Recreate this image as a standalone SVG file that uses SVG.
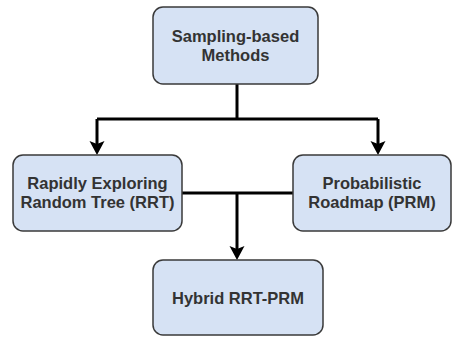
<svg xmlns="http://www.w3.org/2000/svg" width="452" height="337" viewBox="0 0 452 337">
<style>
.box{fill:#d6e2f4;stroke:#3a3a3a;stroke-width:1.5}
.lbl{font-family:"Liberation Sans",Arial,sans-serif;font-weight:bold;font-size:16.5px;fill:#333;text-anchor:middle}
.edge{fill:none;stroke:#000;stroke-width:3}
</style>
<defs>
<marker id="arr" markerUnits="userSpaceOnUse" viewBox="-1 -9 17 18" markerWidth="17" markerHeight="18" refX="3" refY="0" orient="auto">
<path d="M0,-7.5 L14,0 L0,7.5 L3,0 Z" fill="#000"/>
</marker>
</defs>
<rect width="452" height="337" fill="#fff"/>
<g id="connectors">
<path class="edge" d="M237,84 V119"/>
<path class="edge" d="M97,119 H378"/>
<path class="edge" d="M97,119 V144" marker-end="url(#arr)"/>
<path class="edge" d="M378,119 V144" marker-end="url(#arr)"/>
<path class="edge" d="M182,193 H293"/>
<path class="edge" d="M237,193 V249" marker-end="url(#arr)"/>
</g>
<g id="sampling">
<rect class="box" x="153" y="7" width="165" height="77" rx="10"/>
<text class="lbl" x="235.5" y="42">Sampling-based</text>
<text class="lbl" x="235.5" y="61">Methods</text>
</g>
<g id="rrt">
<rect class="box" x="13" y="155" width="169" height="76" rx="10"/>
<text class="lbl" x="97.5" y="189">Rapidly Exploring</text>
<text class="lbl" x="97.5" y="208">Random Tree (RRT)</text>
</g>
<g id="prm">
<rect class="box" x="293" y="155" width="158" height="76" rx="10"/>
<text class="lbl" x="372" y="189">Probabilistic</text>
<text class="lbl" x="372" y="208">Roadmap (PRM)</text>
</g>
<g id="hybrid">
<rect class="box" x="153" y="260" width="170" height="75" rx="10"/>
<text class="lbl" x="238" y="304">Hybrid RRT-PRM</text>
</g>
</svg>
